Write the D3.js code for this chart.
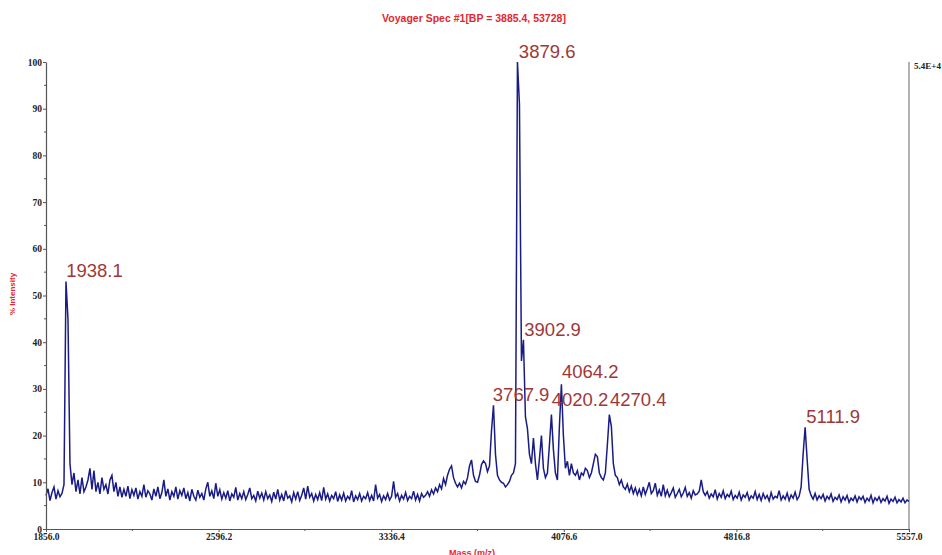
<!DOCTYPE html>
<html>
<head>
<meta charset="utf-8">
<script src="https://cdn.jsdelivr.net/npm/d3@7"></script>
<style>
  html, body { margin: 0; padding: 0; background: #fff; }
  svg { display: block; }
</style>
</head>
<body>
<svg id="chart" width="942" height="555"></svg>
<script>
// ---------- data ----------
const title = "Voyager Spec #1[BP = 3885.4, 53728]";
const xTitle = "Mass (m/z)";
const yTitle = "% Intensity";
const rightLabel = "5.4E+4";

const mzStart = 1856.0;
const mzEnd = 5557.0;

const xTicks = [1856.0, 2596.2, 3336.4, 4076.6, 4816.8, 5557.0];
const xMinorTicks = [2226.1, 2966.3, 3706.5, 4446.7, 5186.9];
const yTicks = [0, 10, 20, 30, 40, 50, 60, 70, 80, 90, 100];
const yMinorTicks = [5, 15, 25, 35, 45, 55, 65, 75, 85, 95];

const peakMz = [1938.1, 3879.6, 3902.9, 4064.2, 3767.9, 4020.2, 4270.4, 5111.9];
const peakLabels = ["1938.1", "3879.6", "3902.9", "4064.2", "3767.9", "4020.2", "4270.4", "5111.9"];
const peakLabelLevel = [53, 100, 40.5, 31.5, 26.5, 25.5, 25.5, 21.8];

// % intensity sampled uniformly from mzStart to mzEnd
const intensity = [
  7.2, 8.6, 6.1, 7.8, 9.0, 6.4, 8.2, 6.9, 7.6, 9.5,
  53, 45, 14, 9.5, 12, 8, 10.5, 7.5, 11, 8,
  9, 10.5, 13, 8.5, 12.5, 8, 10, 7.5, 11, 8.5,
  9.5, 7.5, 10.5, 11.5, 8, 10, 7, 9, 6.8, 8.5,
  7, 9.2, 6.5, 8.4, 7.2, 8.8, 6.4, 8, 7, 9.5,
  6.8, 8.2, 7.5, 6.2, 8.6, 7, 9, 6.5, 7.8, 10.5,
  7, 8.6, 6.2, 8, 7, 9, 6.4, 8.2, 7.2, 8.8,
  6.5, 7.8, 6, 8.5, 7, 6.2, 8.3, 6.8, 7.6, 6.2,
  8.6, 10, 7, 8.2, 6.5, 9.8, 7, 8.4, 6.4, 7.8,
  6.6, 8.2, 6, 7.5, 6.8, 8.9, 6.2, 7.6, 6.5, 8,
  6.3, 7.4, 8.8, 6.5, 7.2, 6, 8.1, 6.6, 7.7, 6.2,
  8, 6.5, 7.3, 5.9, 7.9, 6.4, 8.5, 6.2, 7.4, 6,
  8.2, 6.6, 7.1, 5.8, 7.8, 6.4, 8, 6.1, 7.2, 8.8,
  6.4, 9.2, 6.8, 7.6, 6, 7.4, 6.3, 7.8, 6.1, 8.9,
  6.4, 7.5, 6, 7.2, 6.5, 8, 5.9, 7.3, 6.2, 7.7,
  6, 7, 6.4, 8.2, 5.8, 7.1, 6.3, 7.6, 6, 7,
  6.5, 7.8, 6.1, 7.2, 6, 9.5, 6.6, 7.4, 5.9, 7.1,
  6.3, 7.6, 6.2, 7, 10.2, 6.8, 7.6, 6, 7.2, 6.4,
  7.8, 6.1, 7, 6.5, 8.1, 6.2, 7.4, 6, 7.6, 6.8,
  7.2, 8, 7, 8.4, 7.5, 8.8, 8, 9.5, 8.6, 10.8,
  9.5, 11.5, 12.8, 13.5, 11, 9.8, 9, 9.8, 8.8, 10.2,
  9.6, 11, 13.5, 14.8, 11.5, 10.2, 10, 11.5, 13.8, 14.6,
  14, 12.3, 13.5, 21, 26.5, 16, 11.5, 10.5, 10, 9.8,
  9, 9.5, 10.2, 11.5, 12, 14, 100, 91, 36, 40.5,
  24, 21.5, 16, 14, 19.5, 14, 10.5, 15, 20, 13,
  11, 12, 18, 24.5, 17, 12, 10.5, 22, 31, 20,
  13, 14.5, 11.5, 14, 12, 11.5, 12.5, 10.5, 12, 11.5,
  13, 12.5, 11, 12, 14, 16, 15.5, 12, 11, 10.5,
  12, 18, 24.5, 22, 14, 11.5, 11, 9.5, 10.5, 9,
  8.5, 9.6, 8, 9.2, 7.6, 8.8, 7.3, 8.5, 7.1, 9,
  7.4, 8.6, 10, 7.6, 8.2, 9.8, 7.2, 8.4, 7, 9.5,
  7.1, 8.3, 6.9, 7.8, 8.8, 6.8, 7.6, 8.5, 6.9, 7.7,
  8.9, 7, 7.8, 6.6, 8.2, 7.3, 7.5, 8.1, 10.5, 8,
  7.2, 8, 6.6, 7.5, 6.9, 8.4, 6.4, 7.6, 6.8, 8.2,
  6.5, 7.4, 6.9, 8.1, 6.3, 7.2, 6.6, 7.9, 6.2, 7.3,
  6.8, 7.8, 6.2, 7.1, 6.6, 8, 6.3, 7.4, 6.1, 7.6,
  6.5, 7.2, 6, 7.8, 6.4, 7, 6.7, 8.2, 6.2, 7.1,
  6.4, 7.7, 6.1, 7.3, 6.6, 7.9, 6.3, 7, 9, 16,
  21.8, 15, 8.5, 7.2, 6.4, 7.6, 6.2, 7.1, 6.5, 7.4,
  6, 7, 6.4, 7.5, 5.9, 6.8, 6.3, 7.3, 5.8, 6.9,
  6.2, 7.2, 5.7, 6.6, 6.1, 7.1, 5.8, 6.9, 6.3, 7,
  5.7, 6.6, 6, 7.2, 5.6, 6.7, 6.1, 6.9, 5.7, 6.5,
  6, 7, 5.5, 6.4, 5.9, 6.8, 5.6, 6.3, 5.8, 6.6,
  5.6, 6.2, 5.9
];

// ---------- drawing ----------
const svg = d3.select("#chart");
const plot = { left: 46, right: 909, top: 62, bottom: 529 };

const x = d3.scaleLinear().domain([mzStart, mzEnd]).range([plot.left, plot.right]);
const y = d3.scaleLinear().domain([0, 100]).range([plot.bottom, plot.top]);
const step = (mzEnd - mzStart) / (intensity.length - 1);
const spectrum = intensity.map((v, i) => ({ mz: mzStart + i * step, v }));

const red = "#e5262d";
const labelFont = "'Liberation Serif', 'Times New Roman', serif";

// title
svg.append("text")
  .attr("x", 474).attr("y", 22)
  .attr("text-anchor", "middle")
  .attr("font-family", "'Liberation Sans', Arial, sans-serif")
  .attr("font-weight", "bold")
  .attr("font-size", 10.5)
  .attr("fill", red)
  .text(title);

// right frame line
svg.append("line")
  .attr("x1", x(mzEnd)).attr("x2", x(mzEnd))
  .attr("y1", y(100)).attr("y2", y(0))
  .attr("stroke", "#9a9a9a").attr("stroke-width", 1.5);

svg.append("text")
  .attr("x", x(mzEnd) + 5).attr("y", y(100) + 7)
  .attr("font-family", labelFont)
  .attr("font-weight", "bold")
  .attr("font-size", 9)
  .attr("fill", "#222")
  .text(rightLabel);

// spectrum line
const line = d3.line().x(d => x(d.mz)).y(d => y(d.v));
svg.append("path")
  .datum(spectrum)
  .attr("d", line)
  .attr("fill", "none")
  .attr("stroke", "#1a1c86")
  .attr("stroke-width", 1.5)
  .attr("stroke-linejoin", "miter");

// y axis
const yAxis = svg.append("g")
  .attr("transform", `translate(${plot.left},0)`)
  .call(d3.axisLeft(y).tickValues(yTicks).tickSize(3).tickSizeOuter(0).tickFormat(d3.format("d")));
yAxis.append("g").selectAll("line").data(yMinorTicks).join("line")
  .attr("x1", -2).attr("x2", 0).attr("y1", d => y(d)).attr("y2", d => y(d))
  .attr("stroke", "#555");

// x axis
const xAxis = svg.append("g")
  .attr("transform", `translate(0,${plot.bottom})`)
  .call(d3.axisBottom(x).tickValues(xTicks).tickSize(3).tickSizeOuter(0).tickFormat(d => d.toFixed(1)));
xAxis.append("g").selectAll("line").data(xMinorTicks).join("line")
  .attr("x1", d => x(d)).attr("x2", d => x(d)).attr("y1", 0).attr("y2", 2)
  .attr("stroke", "#555");

[yAxis, xAxis].forEach(g => {
  g.select(".domain").attr("stroke", "#555").attr("stroke-width", 1.2);
  g.selectAll(".tick line").attr("stroke", "#555");
  g.selectAll(".tick text")
    .attr("font-family", labelFont)
    .attr("font-weight", "bold")
    .attr("font-size", 9.5)
    .attr("fill", "#222");
});
yAxis.selectAll(".tick text").attr("x", -4);
xAxis.selectAll(".tick text").attr("y", 4);

// axis titles
svg.append("text")
  .attr("transform", `translate(15,294) rotate(-90)`)
  .attr("text-anchor", "middle")
  .attr("font-family", "'Liberation Sans', Arial, sans-serif")
  .attr("font-weight", "bold")
  .attr("font-size", 8)
  .attr("fill", red)
  .text(yTitle);

svg.append("text")
  .attr("x", 472).attr("y", 556)
  .attr("text-anchor", "middle")
  .attr("font-family", "'Liberation Sans', Arial, sans-serif")
  .attr("font-weight", "bold")
  .attr("font-size", 9)
  .attr("fill", red)
  .text(xTitle);

// peak labels
svg.append("g").selectAll("text")
  .data(peakMz.map((m, i) => ({ m, label: peakLabels[i], lv: peakLabelLevel[i] })))
  .join("text")
  .attr("x", d => x(d.m) + 1)
  .attr("y", d => y(d.lv) - 4)
  .attr("font-family", "'Liberation Sans', Arial, sans-serif")
  .attr("font-size", 18.5)
  .attr("fill", "#9e3838")
  .text(d => d.label);
</script>
</body>
</html>
